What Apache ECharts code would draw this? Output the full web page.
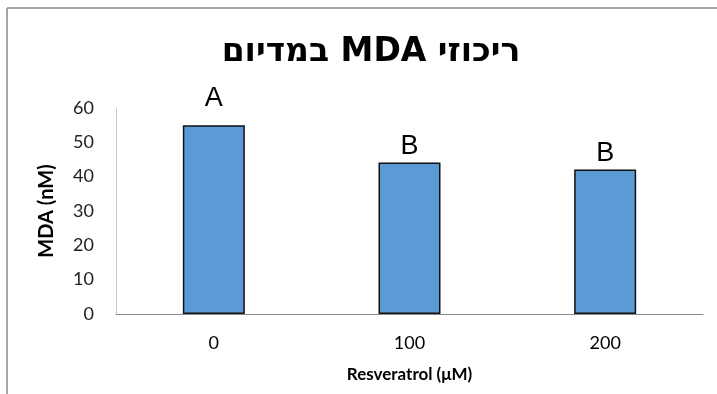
<!DOCTYPE html>
<html>
<head>
<meta charset="utf-8">
<script src="https://cdn.jsdelivr.net/npm/echarts@6/dist/echarts.min.js"></script>
<style>
  html, body { margin: 0; padding: 0; background: #fff; }
  #chart { width: 717px; height: 394px; }
</style>
</head>
<body>
<div id="chart"></div>
<script>
// data
const titleText = 'ריכוזי MDA במדיום'
const categories = ['0', '100', '200']
const mdaValues = [55, 44.1, 42.1]
const groupLetters = ['A', 'B', 'B']
const letterGaps = [13, 3, 2]
const yTicks = { min: 0, max: 60, interval: 10 }

const chart = echarts.init(document.getElementById('chart'))
const tickFont = 'Lato, "Liberation Sans", sans-serif'

chart.setOption({
  animation: false,
  backgroundColor: '#fff',
  title: {
    // RTL embedding so the Hebrew reads in the right order
    text: '\u202B' + titleText + '\u202C',
    left: 366,
    top: 31,
    textAlign: 'center',
    textStyle: {
      fontFamily: '"DejaVu Sans", "Liberation Sans", sans-serif',
      fontWeight: 'bold',
      fontSize: 33,
      color: '#000'
    }
  },
  graphic: [
    { type: 'line', shape: { x1: 7, y1: 8, x2: 717, y2: 8 }, style: { stroke: '#8a8a8a', lineWidth: 1.5 } },
    { type: 'line', shape: { x1: 7, y1: 8, x2: 7, y2: 394 }, style: { stroke: '#8a8a8a', lineWidth: 1.5 } }
  ],
  grid: { left: 116, right: 14, top: 108, bottom: 80 },
  xAxis: {
    type: 'category',
    data: categories,
    name: 'Resveratrol (μM)',
    nameLocation: 'middle',
    nameGap: 52,
    nameTextStyle: { fontFamily: tickFont, fontWeight: 'bold', fontSize: 17, color: '#000' },
    axisLine: { lineStyle: { color: '#8c8c8c', width: 1 } },
    axisTick: { show: false },
    axisLabel: { fontFamily: tickFont, fontSize: 18, color: '#000', margin: 20 }
  },
  yAxis: {
    type: 'value',
    min: yTicks.min,
    max: yTicks.max,
    interval: yTicks.interval,
    name: 'MDA (nM)',
    nameLocation: 'middle',
    nameGap: 59,
    nameTextStyle: { fontFamily: tickFont, fontWeight: 'bold', fontSize: 20, color: '#000' },
    axisLine: { show: true, lineStyle: { color: '#c8c8c8', width: 1 } },
    axisTick: { show: false },
    splitLine: { show: false },
    axisLabel: { fontFamily: tickFont, fontSize: 18, color: '#222', margin: 22 }
  },
  series: [
    {
      type: 'bar',
      barWidth: 62,
      data: mdaValues.map((v, i) => ({
        value: v,
        label: { distance: letterGaps[i] }
      })),
      itemStyle: { color: '#5B9BD5', borderColor: '#111', borderWidth: 1.5 },
      label: {
        show: true,
        position: 'top',
        formatter: p => groupLetters[p.dataIndex],
        fontFamily: '"Liberation Sans", sans-serif',
        fontSize: 27,
        color: '#000'
      }
    }
  ]
})
</script>
</body>
</html>
